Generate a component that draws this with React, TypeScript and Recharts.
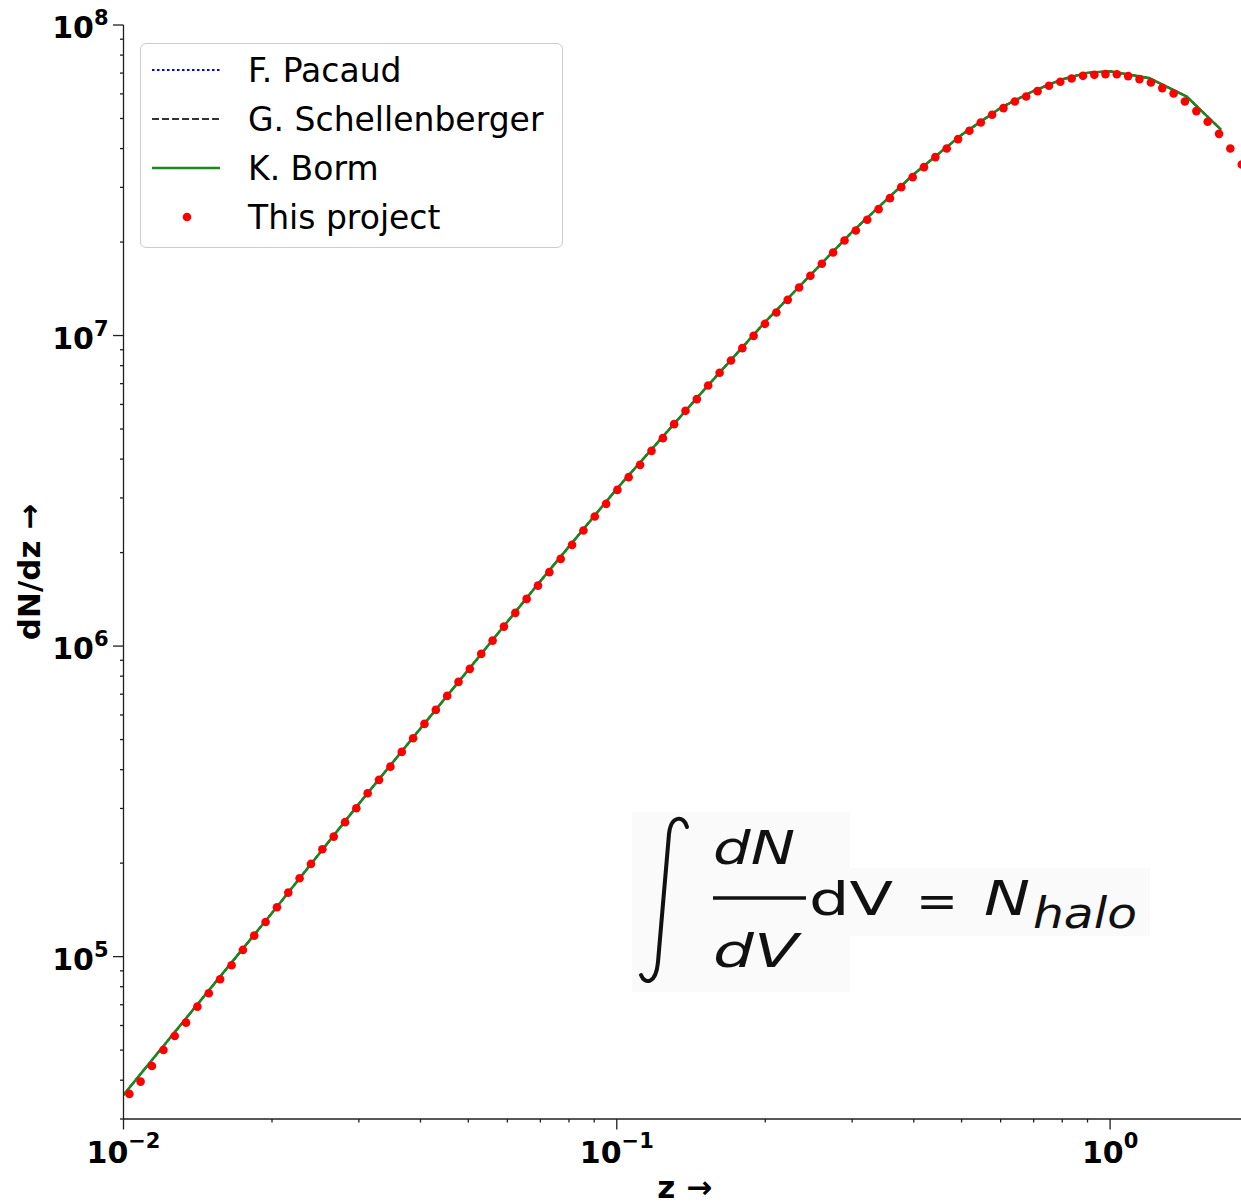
import React from "react";
import { ComposedChart, Line, Scatter, XAxis, YAxis, Legend, Label } from "recharts";

// redshift grid of the "This project" points
const redshiftDots = [
  0.01028, 0.01083, 0.01142, 0.01205, 0.0127, 0.01339, 0.01412, 0.01489, 0.0157, 0.01656,
  0.01746, 0.01841, 0.01941, 0.02047, 0.02158, 0.02275, 0.02399, 0.0253, 0.02668, 0.02813,
  0.02965, 0.03126, 0.03296, 0.03476, 0.03665, 0.03865, 0.04075, 0.04297, 0.04531, 0.04777,
  0.05036, 0.05311, 0.05601, 0.05905, 0.06227, 0.06566, 0.06923, 0.073, 0.07697, 0.08116,
  0.08558, 0.09024, 0.09515, 0.1003, 0.1057, 0.1115, 0.1176, 0.124, 0.1307, 0.1378,
  0.1453, 0.1532, 0.1616, 0.1704, 0.1797, 0.1894, 0.1997, 0.2106, 0.2221, 0.2342,
  0.2469, 0.2604, 0.2745, 0.2895, 0.3052, 0.3219, 0.3394, 0.3579, 0.3773, 0.3979,
  0.4195, 0.4424, 0.4665, 0.4919, 0.5186, 0.5469, 0.5766, 0.608, 0.6411, 0.676,
  0.7129, 0.7517, 0.7926, 0.8357, 0.8812, 0.9292, 0.9787, 1.032, 1.088, 1.147,
  1.21, 1.276, 1.345, 1.418, 1.496, 1.577, 1.663, 1.753, 1.849,
];

const thisProjectDndz = [
  36130, 39580, 44460, 50060, 55530, 61300, 69020, 76220, 84570, 93820,
  1.051e5, 1.1685e5, 1.2934e5, 1.4424e5, 1.6077e5, 1.7885e5, 1.9885e5, 2.218e5, 2.435e5, 2.71e5,
  3.006e5, 3.359e5, 3.709e5, 4.091e5, 4.563e5, 5.051e5, 5.616e5, 6.23e5, 6.911e5, 7.667e5,
  8.446e5, 9.438e5, 1.0416e6, 1.1555e6, 1.2794e6, 1.419e6, 1.566e6, 1.73e6, 1.909e6, 2.118e6,
  2.355e6, 2.613e6, 2.871e6, 3.185e6, 3.499e6, 3.833e6, 4.253e6, 4.673e6, 5.184e6, 5.722e6,
  6.241e6, 6.902e6, 7.585e6, 8.308e6, 9.109e6, 9.977e6, 1.0907e7, 1.186e7, 1.303e7, 1.428e7,
  1.557e7, 1.702e7, 1.851e7, 2.023e7, 2.179e7, 2.359e7, 2.553e7, 2.77e7, 3.005e7, 3.236e7,
  3.486e7, 3.755e7, 4.002e7, 4.291e7, 4.563e7, 4.853e7, 5.138e7, 5.4e7, 5.67e7, 5.884e7,
  6.124e7, 6.37e7, 6.562e7, 6.724e7, 6.86e7, 6.911e7, 6.948e7, 6.94e7, 6.845e7, 6.695e7,
  6.528e7, 6.263e7, 6.017e7, 5.67e7, 5.281e7, 4.878e7, 4.462e7, 4.002e7, 3.553e7,
];

// model curves (they lie on top of each other)
const modelRedshift = [0.01, 0.02, 0.03, 0.05, 0.07, 0.1, 0.15, 0.2, 0.3, 0.4, 0.5, 0.6, 0.7, 0.8, 0.9, 1.0, 1.2, 1.43, 1.68];
const pacaudDndz = [3.586e4, 1.382e5, 3.103e5, 8.381e5, 1.619e6, 3.209e6, 6.664e6, 1.107e7, 2.158e7, 3.305e7, 4.43e7, 5.411e7, 6.138e7, 6.684e7, 7.015e7, 7.094e7, 6.745e7, 5.884e7, 4.597e7];
const schellenbergerDndz = [3.586e4, 1.382e5, 3.103e5, 8.381e5, 1.619e6, 3.209e6, 6.664e6, 1.107e7, 2.158e7, 3.305e7, 4.43e7, 5.411e7, 6.138e7, 6.684e7, 7.015e7, 7.094e7, 6.745e7, 5.884e7, 4.597e7];
const bormDndz = [3.586e4, 1.382e5, 3.103e5, 8.381e5, 1.619e6, 3.209e6, 6.664e6, 1.107e7, 2.158e7, 3.305e7, 4.43e7, 5.411e7, 6.138e7, 6.684e7, 7.015e7, 7.094e7, 6.745e7, 5.884e7, 4.597e7];

const xMajorTicks = [0.01, 0.1, 1];
const xMinorTicks = [0.02, 0.03, 0.04, 0.05, 0.06, 0.07, 0.08, 0.09, 0.2, 0.3, 0.4, 0.5, 0.6, 0.7, 0.8, 0.9];
const yMajorTicks = [1e5, 1e6, 1e7, 1e8];
const yMinorTicks = [
  3e4, 4e4, 5e4, 6e4, 7e4, 8e4, 9e4,
  2e5, 3e5, 4e5, 5e5, 6e5, 7e5, 8e5, 9e5,
  2e6, 3e6, 4e6, 5e6, 6e6, 7e6, 8e6, 9e6,
  2e7, 3e7, 4e7, 5e7, 6e7, 7e7, 8e7, 9e7,
];

const FONT = "'DejaVu Sans', sans-serif";
const INK = "#1f1f1f";
const X_DOMAIN = [0.01, 1.886];
const Y_DOMAIN = [3e4, 1e8];

const MODELS = [
  { name: "F. Pacaud", values: pacaudDndz, color: "#0000ff", dash: "2.5 2.5", width: 2 },
  { name: "G. Schellenberger", values: schellenbergerDndz, color: "#333333", dash: "7 3", width: 2 },
  { name: "K. Borm", values: bormDndz, color: "#1e861e", dash: undefined, width: 2.6 },
];
const DOT_NAME = "This project";
const DOT_COLOR = "#ff0000";

const dots = redshiftDots.map((z, i) => ({ z, y: thisProjectDndz[i] }));
const modelRows = (vals: number[]) => modelRedshift.map((z, i) => ({ z, y: vals[i] }));

const isMajor = (v: number, list: number[]) => list.some(m => Math.abs(v - m) <= m * 1e-6);
const expText = (v: number) => {
  const e = Math.round(Math.log10(v));
  return e < 0 ? `\u2212${-e}` : `${e}`;
};

function BottomTick(props: any) {
  const { x, y, payload } = props;
  const major = isMajor(payload.value, xMajorTicks);
  return (
    <g>
      <line x1={x} x2={x} y1={y} y2={y + (major ? 10.5 : 3.5)} stroke={INK} strokeWidth={1.3} />
      {major && (
        <text x={x} y={y + 44} textAnchor="middle" fontFamily={FONT} fontWeight="bold" fontSize={30} fill="#000">
          10
          <tspan dy={-15} fontSize={21}>{expText(payload.value)}</tspan>
        </text>
      )}
    </g>
  );
}

function TopTick(props: any) {
  const { x, y } = props;
  return <line x1={x} x2={x} y1={y} y2={y - 10.5} stroke={INK} strokeWidth={1.3} />;
}

function LeftTick(props: any) {
  const { x, y, payload } = props;
  const major = isMajor(payload.value, yMajorTicks);
  return (
    <g>
      <line x1={x} x2={x - (major ? 10.5 : 3.5)} y1={y} y2={y} stroke={INK} strokeWidth={1.3} />
      {major && (
        <text x={x - 15} y={y + 13} textAnchor="end" fontFamily={FONT} fontWeight="bold" fontSize={30} fill="#000">
          10
          <tspan dy={-13} fontSize={21}>{expText(payload.value)}</tspan>
        </text>
      )}
    </g>
  );
}

function LegendBox() {
  const rows = [...MODELS.map(m => m.name), DOT_NAME];
  return (
    <div
      style={{
        width: 423,
        height: 205,
        boxSizing: "border-box",
        border: "1px solid #cccccc",
        borderRadius: 6,
        background: "rgba(255,255,255,0.8)",
      }}
    >
      <svg width={421} height={203} style={{ display: "block" }}>
        {rows.map((name, i) => {
          const cy = 26 + i * 49;
          const m = MODELS[i];
          return (
            <g key={name}>
              {m ? (
                <line x1={11} x2={79} y1={cy} y2={cy} stroke={m.color} strokeWidth={m.width} strokeDasharray={m.dash} />
              ) : (
                <circle cx={46} cy={cy} r={4.3} fill={DOT_COLOR} />
              )}
              <text x={107} y={cy + 12} fontFamily={FONT} fontSize={33} fill="#000">
                {name}
              </text>
            </g>
          );
        })}
      </svg>
    </div>
  );
}

function Formula() {
  return (
    <svg width={1241} height={1204} style={{ position: "absolute", left: 0, top: 0 }}>
      <rect x={632} y={812} width={218} height={180} fill="#fafafa" />
      <rect x={850} y={868} width={300} height={68} fill="#fafafa" />
      <path
        d="M 687 827 C 684 815, 671 815, 669 834 L 658 962 C 656 984, 645 985, 641 975"
        stroke="#111"
        strokeWidth={4}
        fill="none"
        strokeLinecap="round"
      />
      <g fontFamily={FONT} fill="#111">
        <text x={713} y={864} fontSize={46} fontStyle="italic" textLength={82} lengthAdjust="spacingAndGlyphs">dN</text>
        <line x1={713} x2={806} y1={898} y2={898} stroke="#111" strokeWidth={3.5} />
        <text x={713} y={967} fontSize={46} fontStyle="italic" textLength={85} lengthAdjust="spacingAndGlyphs">dV</text>
        <text x={809} y={915} fontSize={46} textLength={84} lengthAdjust="spacingAndGlyphs">dV</text>
        <text x={916} y={917} fontSize={46} textLength={42} lengthAdjust="spacingAndGlyphs">=</text>
        <text x={984} y={915} fontSize={48} fontStyle="italic" textLength={46} lengthAdjust="spacingAndGlyphs">N</text>
        <text x={1033} y={928} fontSize={42} fontStyle="italic" textLength={104} lengthAdjust="spacingAndGlyphs">halo</text>
      </g>
    </svg>
  );
}

export default function App() {
  return (
    <div style={{ position: "absolute", left: 0, top: 0, width: 1241, height: 1204, overflow: "hidden", background: "#fff" }}>
      <Formula />
      <ComposedChart width={1250} height={1204} margin={{ top: 25, right: 4, bottom: 0, left: 0 }}>
        <XAxis
          type="number"
          dataKey="z"
          scale="log"
          domain={X_DOMAIN}
          allowDataOverflow
          ticks={[...xMajorTicks, ...xMinorTicks]}
          interval={0}
          tickLine={false}
          tickSize={0}
          tickMargin={0}
          tick={BottomTick}
          height={85}
          axisLine={{ stroke: INK, strokeWidth: 1.3 }}
        >
          <Label
            content={(p: any) => {
              const vb = p.viewBox;
              return (
                <text x={vb.x + vb.width / 2} y={vb.y + 79} textAnchor="middle" fontFamily={FONT} fontWeight="bold" fontSize={31} fill="#000">
                  z →
                </text>
              );
            }}
          />
        </XAxis>
        <XAxis
          xAxisId="top"
          orientation="top"
          type="number"
          dataKey="z"
          scale="log"
          domain={X_DOMAIN}
          allowDataOverflow
          ticks={xMajorTicks}
          interval={0}
          tickLine={false}
          tickSize={0}
          tickMargin={0}
          tick={TopTick}
          height={0}
          axisLine={{ stroke: INK, strokeWidth: 1.3 }}
        />
        <YAxis
          type="number"
          dataKey="y"
          scale="log"
          domain={Y_DOMAIN}
          allowDataOverflow
          ticks={[...yMajorTicks, ...yMinorTicks]}
          interval={0}
          tickLine={false}
          tickSize={0}
          tickMargin={0}
          tick={LeftTick}
          width={123.5}
          axisLine={{ stroke: INK, strokeWidth: 1.3 }}
        >
          <Label
            content={(p: any) => {
              const vb = p.viewBox;
              const cx = vb.x + 40;
              const cy = vb.y + vb.height / 2;
              return (
                <text
                  x={cx}
                  y={cy}
                  transform={`rotate(-90, ${cx}, ${cy})`}
                  textAnchor="middle"
                  fontFamily={FONT}
                  fontWeight="bold"
                  fontSize={31}
                  fill="#000"
                >
                  dN/dz →
                </text>
              );
            }}
          />
        </YAxis>
        <Legend
          layout="vertical"
          align="center"
          verticalAlign="middle"
          wrapperStyle={{ left: 140, top: 43, width: 423, height: 205 }}
          content={() => <LegendBox />}
        />
        <Scatter
          name={DOT_NAME}
          data={dots}
          fill={DOT_COLOR}
          isAnimationActive={false}
          shape={(p: any) => <circle cx={p.cx} cy={p.cy} r={4.3} fill={DOT_COLOR} />}
        />
        {MODELS.map(m => (
          <Line
            key={m.name}
            name={m.name}
            data={modelRows(m.values)}
            dataKey="y"
            type="linear"
            stroke={m.color}
            strokeWidth={m.width}
            strokeDasharray={m.dash}
            dot={false}
            activeDot={false}
            isAnimationActive={false}
          />
        ))}
      </ComposedChart>
    </div>
  );
}
